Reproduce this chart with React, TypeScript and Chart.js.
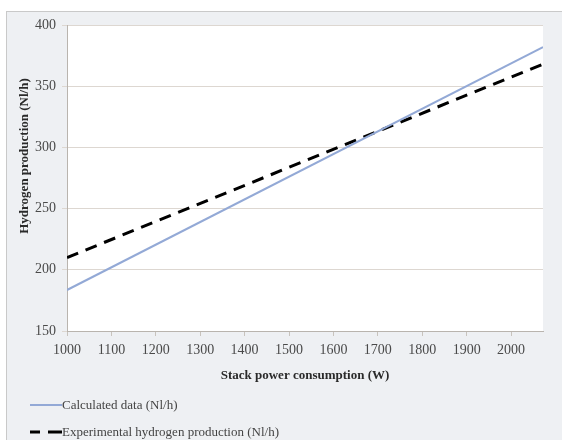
import React, { useEffect, useRef } from "react";
import { Chart, registerables } from "chart.js";

Chart.register(...registerables);

const powerW = [1000, 2072];
const calculatedData = [183.5, 382];
const experimentalData = [210, 368];
const xTickStep = 100;
const yTickStep = 50;
const seriesLabels = ["Calculated data (Nl/h)", "Experimental hydrogen production (Nl/h)"];
const yTitle = "Hydrogen production (Nl/h)";
const xTitle = "Stack power consumption (W)";

const SERIF = "'Liberation Serif', 'Times New Roman', serif";

const plotBg = {
  id: "plotBg",
  beforeDraw(chart: any) {
    const { ctx, chartArea } = chart;
    ctx.save();
    ctx.fillStyle = "#ffffff";
    ctx.fillRect(chartArea.left, chartArea.top, chartArea.right - chartArea.left, chartArea.bottom - chartArea.top);
    ctx.restore();
  },
};

const yTitlePlugin = {
  id: "yTitlePlugin",
  afterDraw(chart: any) {
    const { ctx } = chart;
    ctx.save();
    ctx.translate(25, 156);
    ctx.rotate(-Math.PI / 2);
    ctx.fillStyle = "#2a2a2a";
    ctx.font = `bold 13px ${SERIF}`;
    ctx.textAlign = "center";
    ctx.textBaseline = "middle";
    ctx.fillText(yTitle, 0, 0);
    ctx.restore();
  },
};

const stackLegend = {
  id: "stackLegend",
  afterDraw(chart: any) {
    const { ctx } = chart;
    const ys = [405, 432];
    ctx.save();
    chart.data.datasets.forEach((ds: any, i: number) => {
      const y = ys[i];
      ctx.beginPath();
      ctx.strokeStyle = ds.borderColor;
      ctx.lineWidth = ds.borderWidth;
      ctx.setLineDash(i === 1 ? [10, 8, 14, 0] : []);
      ctx.moveTo(30, y);
      ctx.lineTo(62, y);
      ctx.stroke();
      ctx.setLineDash([]);
      ctx.fillStyle = "#444444";
      ctx.font = `13px ${SERIF}`;
      ctx.textBaseline = "middle";
      ctx.textAlign = "left";
      ctx.fillText(ds.label, 62, y + 1);
    });
    ctx.restore();
  },
};

export default function App() {
  const ref = useRef<HTMLCanvasElement>(null);
  useEffect(() => {
    if (!ref.current) return;
    const chart = new Chart(ref.current, {
      type: "line",
      data: {
        datasets: [
          {
            label: seriesLabels[0],
            data: powerW.map((x, i) => ({ x, y: calculatedData[i] })),
            borderColor: "#93a9d6",
            borderWidth: 2,
            pointRadius: 0,
            fill: false,
            tension: 0,
          },
          {
            label: seriesLabels[1],
            data: powerW.map((x, i) => ({ x, y: experimentalData[i] })),
            borderColor: "#000000",
            borderWidth: 3,
            borderDash: [12, 8],
            pointRadius: 0,
            fill: false,
            tension: 0,
          },
        ],
      },
      options: {
        responsive: false,
        animation: false,
        layout: { padding: { left: 6, right: 19, top: 25, bottom: 53 } },
        plugins: { legend: { display: false }, tooltip: { enabled: false } },
        scales: {
          x: {
            type: "linear",
            min: powerW[0],
            max: powerW[powerW.length - 1],
            afterFit: (s: any) => { s.height = 56; },
            ticks: {
              stepSize: xTickStep,
              includeBounds: false,
              color: "#4a4a4a",
              font: { family: SERIF, size: 14 },
              maxRotation: 0,
              padding: 6,
              callback: (v: any) => String(v),
            },
            grid: { drawOnChartArea: false, drawTicks: true, tickLength: 5, color: "#c8c3bd" },
            border: { color: "#b9b4ae" },
            title: {
              display: true,
              text: xTitle,
              color: "#2a2a2a",
              font: { family: SERIF, size: 13, weight: "bold" },
            },
          },
          y: {
            min: 150,
            max: 400,
            afterFit: (s: any) => { s.width = 61; },
            ticks: {
              stepSize: yTickStep,
              color: "#4a4a4a",
              font: { family: SERIF, size: 14 },
              padding: 6,
              callback: (v: any) => String(v),
            },
            grid: { color: "#ddd7d1", tickLength: 5, drawTicks: true },
            border: { color: "#b9b4ae" },
            title: { display: false },
          },
        },
      },
      plugins: [plotBg, yTitlePlugin, stackLegend],
    });
    return () => chart.destroy();
  }, []);

  return (
    <div style={{ position: "fixed", left: 0, top: 0, width: 562, height: 440, background: "#ffffff" }}>
      <div
        style={{
          position: "absolute",
          left: 6,
          top: 11,
          width: 556,
          height: 429,
          background: "#eef0f3",
          borderLeft: "1px solid #c9c9c9",
          borderTop: "1px solid #c9c9c9",
          boxSizing: "border-box",
        }}
      />
      <canvas ref={ref} width={562} height={440} style={{ position: "absolute", left: 0, top: 0 }} />
    </div>
  );
}
